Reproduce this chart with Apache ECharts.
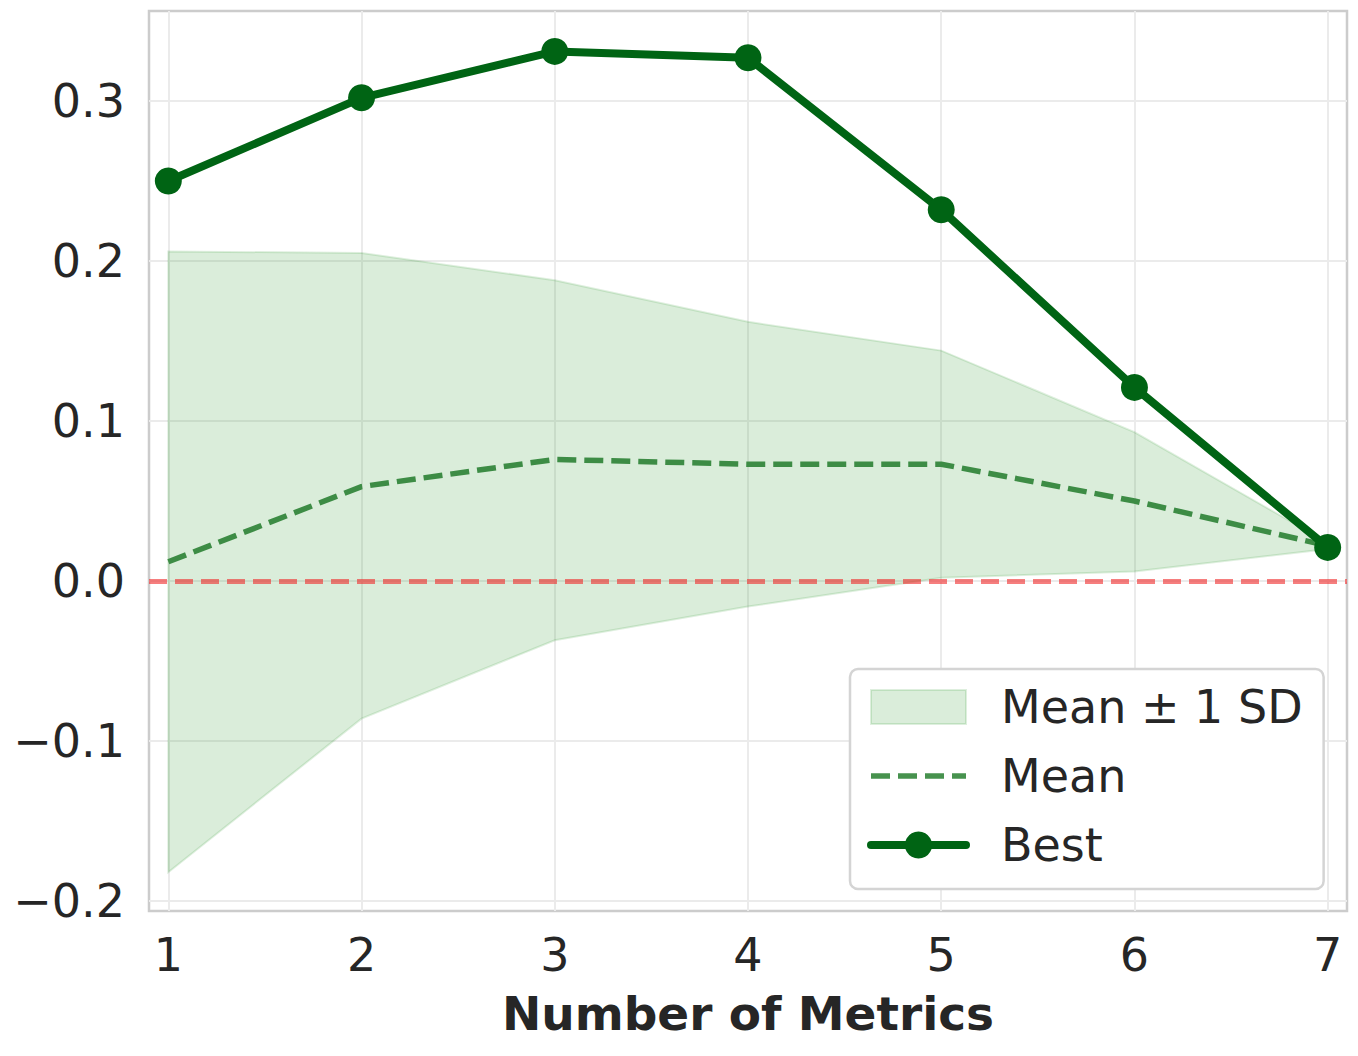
<!DOCTYPE html>
<html>
<head>
<meta charset="utf-8">
<title>Number of Metrics</title>
<script src="https://cdn.jsdelivr.net/npm/echarts@6/dist/echarts.min.js"></script>
<style>
  html, body { margin: 0; padding: 0; background: #ffffff; }
  #chart { width: 1358px; height: 1056px; }
</style>
</head>
<body>
<div id="chart"></div>
<script>
// ---- data ----
const metrics     = [1, 2, 3, 4, 5, 6, 7];
const bestValues  = [0.250, 0.302, 0.331, 0.327, 0.232, 0.121, 0.021];
const meanValues  = [0.012, 0.059, 0.076, 0.073, 0.073, 0.050, 0.022];
const upperValues = [0.206, 0.205, 0.188, 0.162, 0.144, 0.093, 0.024];
const lowerValues = [-0.182, -0.086, -0.037, -0.016, 0.002, 0.006, 0.020];
const xTicks = [1, 2, 3, 4, 5, 6, 7];
const yTicks = [-0.2, -0.1, 0.0, 0.1, 0.2, 0.3];
const zeroLevel = 0;
const xLabel = 'Number of Metrics';
const legendNames = ['Mean ± 1 SD', 'Mean', 'Best'];

// ---- build series data ----
const bandData = metrics.map((m, i) => [m, lowerValues[i], upperValues[i]]);
const meanData = metrics.map((m, i) => [m, meanValues[i]]);
const bestData = metrics.map((m, i) => [m, bestValues[i]]);

const FONT = 'DejaVu Sans';
const TEXT = '#262626';
const BAND_FILL = 'rgba(0,128,0,0.145)';
const BAND_EDGE = 'rgba(0,128,0,0.13)';
const MEAN_COLOR = '#3d8c45';
const BEST_COLOR = '#006414';

const fmtY = v => (v < 0 ? '\u2212' : '') + Math.abs(v).toFixed(1);

const chart = echarts.init(document.getElementById('chart'), null, { renderer: 'svg' });
chart.setOption({
  animation: false,
  backgroundColor: '#ffffff',
  grid: {
    left: 149, right: 11, top: 11, bottom: 145,
    show: true, borderColor: '#cccccc', borderWidth: 2.5, backgroundColor: 'transparent'
  },
  xAxis: {
    type: 'value', min: 0.9, max: 7.1,
    axisLine: { show: false },
    axisTick: { show: false, customValues: xTicks },
    axisLabel: {
      customValues: xTicks, fontFamily: FONT, fontSize: 46, color: TEXT, margin: 21,
      formatter: v => String(v)
    },
    splitLine: { show: true, lineStyle: { color: '#ebebeb', width: 2 } },
    name: xLabel, nameLocation: 'middle', nameGap: 79,
    nameTextStyle: { fontFamily: FONT, fontSize: 47, fontWeight: 'bold', color: TEXT }
  },
  yAxis: {
    type: 'value', min: -0.20625, max: 0.35625,
    axisLine: { show: false },
    axisTick: { show: false, customValues: yTicks },
    axisLabel: {
      customValues: yTicks, fontFamily: FONT, fontSize: 46, color: TEXT, margin: 24,
      formatter: fmtY
    },
    splitLine: { show: true, lineStyle: { color: '#ebebeb', width: 2 } }
  },
  legend: {
    orient: 'vertical', left: 850, top: 669,
    padding: [15, 21, 21, 17],
    itemWidth: 95, itemHeight: 34, itemGap: 23,
    backgroundColor: '#ffffff', borderColor: '#d4d4d4', borderWidth: 2.5, borderRadius: 8,
    selectedMode: false,
    textStyle: { fontFamily: FONT, fontSize: 46, color: TEXT, padding: [0, 0, 0, 30] },
    data: [
      { name: legendNames[0], icon: 'rect',
        itemStyle: { color: BAND_FILL, borderColor: 'rgba(0,128,0,0.13)', borderWidth: 2 } },
      { name: legendNames[1], itemStyle: { opacity: 0 },
        lineStyle: { color: MEAN_COLOR, width: 5.5, type: [19, 8], opacity: 0.95 } },
      { name: legendNames[2], itemStyle: { color: BEST_COLOR },
        lineStyle: { color: BEST_COLOR, width: 8, cap: 'round' } }
    ]
  },
  series: [
    {
      name: legendNames[0], type: 'custom', data: bandData,
      encode: { x: 0, y: [1, 2] },
      silent: true, z: 1,
      itemStyle: { color: BAND_FILL },
      renderItem: function (params, api) {
        if (params.dataIndex !== 0) return null;
        const pts = [];
        for (let k = 0; k < metrics.length; k++) {
          pts.push(api.coord([metrics[k], upperValues[k]]));
        }
        for (let k = metrics.length - 1; k >= 0; k--) {
          pts.push(api.coord([metrics[k], lowerValues[k]]));
        }
        return {
          type: 'polygon',
          shape: { points: pts },
          style: { fill: BAND_FILL, stroke: BAND_EDGE, lineWidth: 2 }
        };
      }
    },
    {
      name: legendNames[1], type: 'line', data: meanData,
      symbol: 'none', z: 3,
      lineStyle: { color: MEAN_COLOR, width: 5.5, type: [19, 8] },
      itemStyle: { color: MEAN_COLOR },
      markLine: {
        silent: true, symbol: ['none', 'none'], animation: false,
        label: { show: false },
        lineStyle: { color: 'rgba(240,40,40,0.6)', width: 5, type: [18, 8], opacity: 1 },
        data: [{ yAxis: zeroLevel }]
      }
    },
    {
      name: legendNames[2], type: 'line', data: bestData,
      symbol: 'circle', symbolSize: 27, z: 4,
      lineStyle: { color: BEST_COLOR, width: 8, cap: 'round' },
      itemStyle: { color: BEST_COLOR }
    }
  ]
});
</script>
</body>
</html>
